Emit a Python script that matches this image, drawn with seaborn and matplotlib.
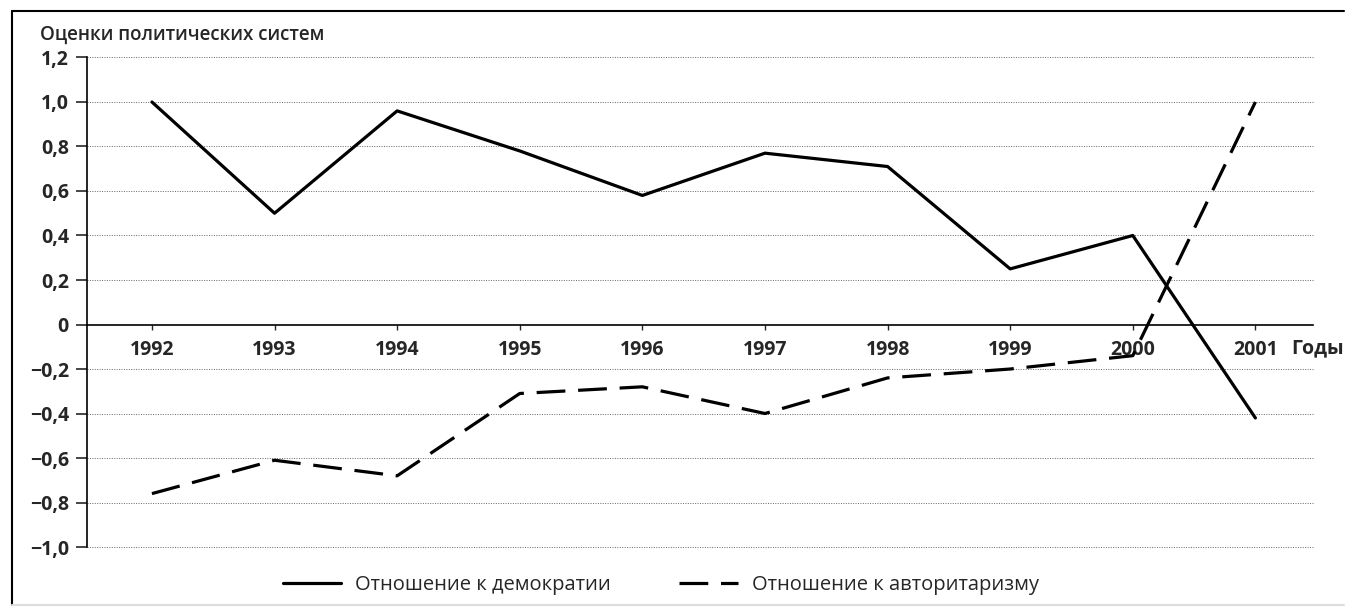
import pandas as pd
import numpy as np
import matplotlib
matplotlib.use('Agg')
import matplotlib.pyplot as plt
import matplotlib.transforms as mtransforms
from matplotlib.lines import Line2D
import seaborn as sns

# data
years = [1992, 1993, 1994, 1995, 1996, 1997, 1998, 1999, 2000, 2001]
democracy = [1.0, 0.50, 0.96, 0.78, 0.58, 0.77, 0.71, 0.25, 0.40, -0.42]
authoritarian = [-0.76, -0.61, -0.68, -0.31, -0.28, -0.40, -0.24, -0.20, -0.14, 1.0]
series_names = ['Отношение к демократии', 'Отношение к авторитаризму']
y_ticks = [1.2, 1.0, 0.8, 0.6, 0.4, 0.2, 0, -0.2, -0.4, -0.6, -0.8, -1.0]
y_title = 'Оценки политических систем'
x_title = 'Годы'

sns.set_style('white')
plt.rcParams['font.family'] = ['Open Sans', 'DejaVu Sans']

df = pd.DataFrame({
    'year': years * 2,
    'value': democracy + authoritarian,
    'series': [series_names[0]] * len(years) + [series_names[1]] * len(years),
})

fig = plt.figure(figsize=(13.46, 6.07), dpi=100)
ax = fig.add_axes([0.0646, 0.0988, 0.9109, 0.8065])

sns.lineplot(data=df, x='year', y='value', style='series',
             dashes={series_names[0]: '', series_names[1]: (9, 4)},
             color='black', linewidth=2.3, legend=False, ax=ax)

ax.set_xlim(1991.47, 2001.47)
ax.set_ylim(-1.0, 1.2)

# dotted grid
for v in y_ticks:
    if v != 0:
        ax.axhline(v, color='#666666', linestyle=(0, (1, 1.5)), linewidth=0.7,
                   zorder=0, clip_on=False)

# spines
for s in ['top', 'right']:
    ax.spines[s].set_visible(False)
ax.spines['left'].set_color('black')
ax.spines['left'].set_linewidth(1.2)
ax.spines['bottom'].set_position(('data', 0))
ax.spines['bottom'].set_color('black')
ax.spines['bottom'].set_linewidth(1.2)

def fmt(v):
    if v == 0:
        return '0'
    s = '%.1f' % abs(v)
    s = s.replace('.', ',')
    return ('\u2212' + s) if v < 0 else s

ax.set_yticks(y_ticks)
ax.set_yticklabels([fmt(v) for v in y_ticks], fontsize=14, fontweight='bold')
ax.set_xticks(years)
ax.set_xticklabels([str(y) for y in years], fontsize=14, fontweight='bold')
ax.tick_params(axis='y', direction='out', length=8, width=1.2, pad=5, left=True)
ax.tick_params(axis='x', direction='out', length=3.5, width=1.0, pad=8, bottom=True)
ax.set_xlabel('')
ax.set_ylabel('')

ax.text(0.0297, 0.942, y_title, transform=fig.transFigure, fontsize=13.5,
        fontweight='semibold', ha='left', va='center')
trans = mtransforms.blended_transform_factory(fig.transFigure, ax.transData)
ax.text(1291 / 1346, -0.105, x_title, transform=trans, fontsize=14,
        fontweight='bold', ha='left', va='center')

# legend
handles = [Line2D([], [], color='black', linewidth=2.3),
           Line2D([], [], color='black', linewidth=2.3, dashes=(9, 4))]
fig.legend(handles, series_names, loc='center', bbox_to_anchor=(0.491, 0.036),
           ncol=2, frameon=False, fontsize=14.5, handlelength=2.9,
           handletextpad=0.7, columnspacing=3.4)

# outer frame
fig.add_artist(Line2D([12 / 1346, 12 / 1346], [2 / 607, 1 - 11 / 607],
                      transform=fig.transFigure, color='black', linewidth=1.5))
fig.add_artist(Line2D([12 / 1346, 1344 / 1346], [1 - 11 / 607, 1 - 11 / 607],
                      transform=fig.transFigure, color='black', linewidth=1.5))
fig.add_artist(Line2D([12 / 1346, 1344 / 1346], [2 / 607, 2 / 607],
                      transform=fig.transFigure, color='#dddddd', linewidth=1.5))

fig.savefig('out.png', dpi=100)
